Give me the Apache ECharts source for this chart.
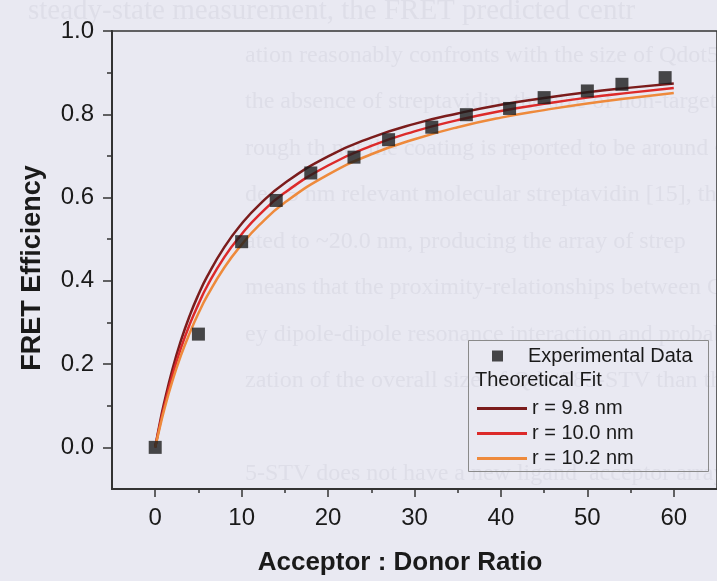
<!DOCTYPE html>
<html>
<head>
<meta charset="utf-8">
<script src="https://cdn.jsdelivr.net/npm/echarts@6/dist/echarts.min.js"></script>
<style>
html,body{margin:0;padding:0;background:#e9e9f2;}
#c{width:717px;height:581px;}
</style>
</head>
<body>
<div id="c"></div>
<script>
// Experimental data (acceptor:donor ratio, FRET efficiency)
const expX = [0, 5, 10, 14, 18, 23, 27, 32, 36, 41, 45, 50, 54, 59];
const expY = [0.0, 0.272, 0.494, 0.593, 0.659, 0.697, 0.739, 0.769, 0.799, 0.814, 0.840, 0.856, 0.872, 0.888];

// Theoretical fit curves
const fitX = [0, 0.5, 1, 2, 3, 4, 5, 6, 8, 10, 12, 15, 20, 25, 30, 35, 40, 45, 50, 55, 60];
const fit98 = [0, 0.055, 0.104, 0.188, 0.258, 0.317, 0.367, 0.410, 0.481, 0.537, 0.582, 0.635, 0.699, 0.744, 0.777, 0.802, 0.823, 0.839, 0.853, 0.864, 0.874];
const fit100 = [0, 0.050, 0.095, 0.174, 0.240, 0.296, 0.344, 0.387, 0.457, 0.512, 0.558, 0.612, 0.677, 0.724, 0.759, 0.786, 0.808, 0.825, 0.840, 0.852, 0.863];
const fit102 = [0, 0.045, 0.087, 0.160, 0.222, 0.275, 0.322, 0.363, 0.432, 0.487, 0.533, 0.588, 0.655, 0.704, 0.740, 0.769, 0.792, 0.810, 0.826, 0.839, 0.851];

const xTicks = [0, 10, 20, 30, 40, 50, 60];
const xMinor = [5, 15, 25, 35, 45, 55];
const yTicks = [0.0, 0.2, 0.4, 0.6, 0.8, 1.0];
const yMinor = [0.1, 0.3, 0.5, 0.7, 0.9];

const seriesNames = ['Experimental Data', 'r = 9.8 nm', 'r = 10.0 nm', 'r = 10.2 nm'];
const headerText = 'Theoretical Fit';
const xTitle = 'Acceptor : Donor Ratio';
const yTitle = 'FRET Efficiency';

// faint scanned page text behind the chart
const bgLines = [
  'steady-state measurement, the FRET predicted centr',
  'ation reasonably confronts with the size of Qdot585',
  'the absence of streptavidin, the size of non-targeting',
  'rough th not the coating is reported to be around ~10-',
  'de ~5 nm relevant molecular streptavidin [15], the overall',
  'ated to ~20.0 nm, producing the array of strep',
  'means that the proximity-relationships between Qdot585',
  'ey dipole-dipole resonance interaction and probably',
  'zation of the overall size of Qdot585-STV than the',
  '',
  '5-STV does not have a new ligand  acceptor array'
];

const pair = (xs, ys) => xs.map((x, i) => [x, ys[i]]);
const AX = '#333333';
const FONT = '"Liberation Sans", Arial, sans-serif';

const bgGraphics = bgLines.map((t, i) => ({
  type: 'text', silent: true, z: -10,
  left: i === 0 ? 28 : 245, top: 10 + i * 46.5 - 13,
  style: { text: t, font: (i === 0 ? '29px' : '24px') + ' "Liberation Serif", serif', fill: '#dedee8' }
}));

const chart = echarts.init(document.getElementById('c'), null, { renderer: 'canvas' });
chart.setOption({
  backgroundColor: '#e9e9f2',
  animation: false,
  grid: { left: 112, top: 31, right: -9, bottom: 92, show: true, borderColor: AX, borderWidth: 1.5, backgroundColor: 'transparent' },
  xAxis: [{
    type: 'value', min: -5, max: 65, interval: 5,
    axisLine: { show: true, onZero: false, lineStyle: { color: AX, width: 2 } },
    axisTick: { show: true, length: 8, customValues: xTicks, lineStyle: { color: AX, width: 1.5 } },
    axisLabel: { customValues: xTicks, margin: 17, fontSize: 24, fontFamily: FONT, color: '#1a1a1a' },
    splitLine: { show: false }
  }, {
    type: 'value', min: -5, max: 65, position: 'bottom',
    axisLine: { show: false, onZero: false },
    axisTick: { show: true, length: 4, customValues: xMinor, lineStyle: { color: AX, width: 1.5 } },
    axisLabel: { show: false }, splitLine: { show: false }
  }],
  yAxis: [{
    type: 'value', min: -0.1, max: 1.0, interval: 0.1,
    axisLine: { show: true, onZero: false, lineStyle: { color: AX, width: 2 } },
    axisTick: { show: true, length: 9, customValues: yTicks, lineStyle: { color: AX, width: 1.5 } },
    axisLabel: { customValues: yTicks, margin: 18, fontSize: 24, fontFamily: FONT, color: '#1a1a1a', formatter: v => v.toFixed(1) },
    splitLine: { show: false }
  }, {
    type: 'value', min: -0.1, max: 1.0, position: 'left',
    axisLine: { show: false, onZero: false },
    axisTick: { show: true, length: 5, customValues: yMinor, lineStyle: { color: AX, width: 1.5 } },
    axisLabel: { show: false }, splitLine: { show: false }
  }],
  legend: [{
    data: [seriesNames[0]], orient: 'vertical', left: 487, top: 341,
    itemWidth: 11, itemHeight: 11, icon: 'rect',
    formatter: n => '{g|}' + n,
    textStyle: { fontSize: 20, fontFamily: FONT, color: '#1a1a1a', rich: { g: { width: 20 } } }
  }, {
    data: seriesNames.slice(1), orient: 'vertical', left: 472, top: 391,
    itemWidth: 50, itemHeight: 3, itemGap: 0, icon: 'rect',
    textStyle: { fontSize: 20, lineHeight: 25, fontFamily: FONT, color: '#1a1a1a' }
  }],
  graphic: bgGraphics.concat([
    { type: 'rect', silent: true, z: 5, shape: { x: 468.5, y: 340.5, width: 240, height: 131 },
      style: { fill: 'none', stroke: '#8a8a8a', lineWidth: 1 } },
    { type: 'text', silent: true, z: 6, left: 475, top: 370,
      style: { text: headerText, font: '20px ' + FONT, fill: '#1a1a1a' } },
    { type: 'text', silent: true, z: 6, x: 400, y: 563,
      style: { text: xTitle, font: 'bold 26px ' + FONT, fill: '#1a1a1a', align: 'center', verticalAlign: 'middle' } },
    { type: 'text', silent: true, z: 6, x: 33, y: 268, rotation: Math.PI / 2,
      style: { text: yTitle, font: 'bold 27px ' + FONT, fill: '#1a1a1a', align: 'center', verticalAlign: 'middle' } }
  ]),
  series: [{
    name: seriesNames[1], type: 'line', smooth: true, symbol: 'none', z: 3,
    data: pair(fitX, fit98), lineStyle: { color: '#7b1c1c', width: 2.5 }, itemStyle: { color: '#7b1c1c' }
  }, {
    name: seriesNames[2], type: 'line', smooth: true, symbol: 'none', z: 3,
    data: pair(fitX, fit100), lineStyle: { color: '#dc2a2a', width: 2.5 }, itemStyle: { color: '#dc2a2a' }
  }, {
    name: seriesNames[3], type: 'line', smooth: true, symbol: 'none', z: 3,
    data: pair(fitX, fit102), lineStyle: { color: '#ee8a3c', width: 2.5 }, itemStyle: { color: '#ee8a3c' }
  }, {
    name: seriesNames[0], type: 'scatter', symbol: 'rect', symbolSize: 13, z: 4,
    data: pair(expX, expY), itemStyle: { color: '#1c1c1c' }
  }]
});
</script>
</body>
</html>
